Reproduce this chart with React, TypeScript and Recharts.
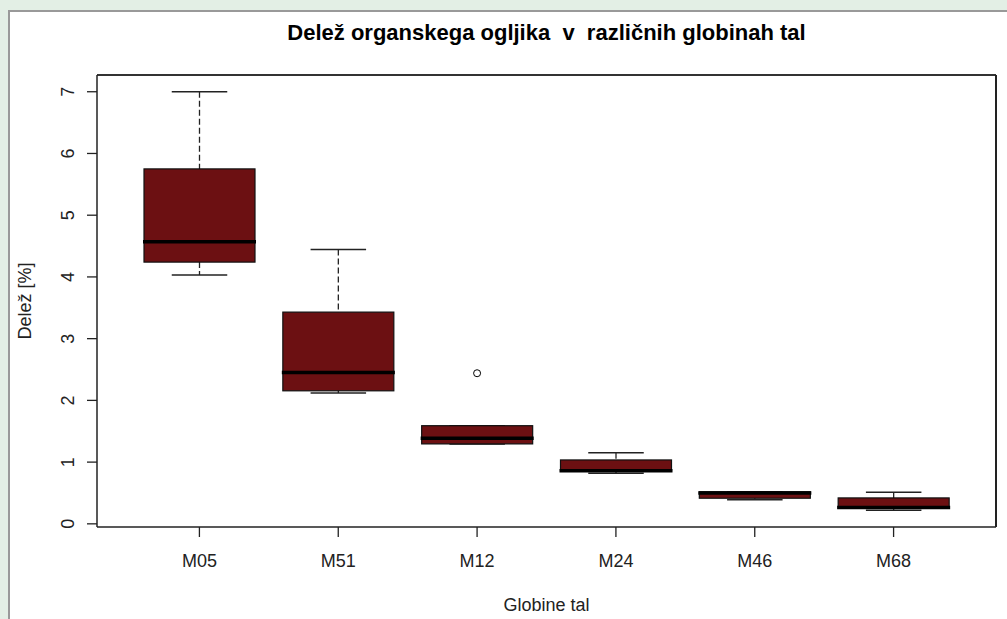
import { ComposedChart, Bar, Line, XAxis, YAxis, Label } from "recharts";

const categories = ["M05", "M51", "M12", "M24", "M46", "M68"];
const whiskerLow = [4.03, 2.12, 1.295, 0.82, 0.39, 0.22];
const quartile1 = [4.24, 2.155, 1.295, 0.86, 0.415, 0.255];
const medians = [4.57, 2.45, 1.385, 0.86, 0.5, 0.265];
const quartile3 = [5.75, 3.43, 1.59, 1.035, 0.52, 0.42];
const whiskerHigh = [7.0, 4.445, 1.59, 1.15, 0.52, 0.51];
const outliers: (number | null)[] = [null, null, 2.44, null, null, null];
const yTicks = [0, 1, 2, 3, 4, 5, 6, 7];

const data = categories.map((name, i) => ({
  name,
  lo: whiskerLow[i],
  q1: quartile1[i],
  med: medians[i],
  q3: quartile3[i],
  hi: whiskerHigh[i],
  outlier: outliers[i],
}));

// R style axis range: data range extended by 4% each side
const allVals = [...whiskerLow, ...whiskerHigh, ...(outliers.filter((v) => v != null) as number[])];
const dMin = Math.min(...allVals);
const dMax = Math.max(...allVals);
const yDomain = [dMin - 0.04 * (dMax - dMin), dMax + 0.04 * (dMax - dMin)];

const FONT = "'Liberation Sans', Arial, sans-serif";
const BOX_FILL = "#6c1012";

const BoxShape = (props: any) => {
  const { x, y, width, height, payload } = props;
  if (!payload) return null;
  const { lo, q1, med, q3, hi } = payload;
  const px = (v: number) => y + ((hi - v) / (hi - lo)) * height;
  const cx = x + width / 2;
  const capHalf = width / 4;
  return (
    <g>
      <line x1={cx} x2={cx} y1={px(hi)} y2={px(q3)} stroke="#222" strokeWidth={1.3} strokeDasharray="6 3" />
      <line x1={cx} x2={cx} y1={px(q1)} y2={px(lo)} stroke="#222" strokeWidth={1.3} strokeDasharray="6 3" />
      <line x1={cx - capHalf} x2={cx + capHalf} y1={px(hi)} y2={px(hi)} stroke="#222" strokeWidth={1.5} />
      <line x1={cx - capHalf} x2={cx + capHalf} y1={px(lo)} y2={px(lo)} stroke="#222" strokeWidth={1.5} />
      <rect x={x} y={px(q3)} width={width} height={Math.max(px(q1) - px(q3), 0.5)} fill={BOX_FILL} stroke="#111" strokeWidth={1.2} />
      <line x1={x - 1} x2={x + width + 1} y1={px(med)} y2={px(med)} stroke="#000" strokeWidth={3.5} />
    </g>
  );
};

const OutlierDot = (props: any) => {
  const { cx, cy, value, index } = props;
  if (value == null || cy == null) return <g key={index} />;
  return <circle key={index} cx={cx} cy={cy} r={3.5} fill="#fff" stroke="#000" strokeWidth={1} />;
};

const YTick = ({ x, y, payload }: any) => (
  <text x={x} y={y} transform={`rotate(-90, ${x}, ${y})`} textAnchor="middle" fontFamily={FONT} fontSize={18} fill="#222">
    {payload.value}
  </text>
);

const App = () => {
  return (
    <div style={{ position: "absolute", left: 0, top: 0, width: 1007, height: 619, background: "#e3efe5", overflow: "hidden" }}>
      <div style={{ position: "absolute", left: 8, top: 10, width: 1010, height: 620, background: "#fff", borderLeft: "2px solid #999", borderTop: "2px solid #999", boxSizing: "border-box" }} />
      <div style={{ position: "absolute", left: 0, top: 0 }}>
        <ComposedChart width={1007} height={619} data={data} margin={{ top: 74, right: 10, left: 0, bottom: 0 }} barSize={111}>
          <XAxis
            xAxisId="main"
            dataKey="name"
            height={92}
            padding={{ left: 33, right: 33 }}
            axisLine={{ stroke: "#222", strokeWidth: 1.5 }}
            tickLine={{ stroke: "#222", strokeWidth: 1.3 }}
            tickSize={10}
            tickMargin={17}
            tick={{ fontFamily: FONT, fontSize: 18, fill: "#222" }}
          >
            <Label
              content={({ viewBox }: any) => (
                <text x={viewBox.x + viewBox.width / 2} y={viewBox.y + 84} textAnchor="middle" fontFamily={FONT} fontSize={18} fill="#222">
                  Globine tal
                </text>
              )}
            />
          </XAxis>
          <XAxis
            xAxisId="top"
            dataKey="name"
            orientation="top"
            height={1}
            padding={{ left: 33, right: 33 }}
            tick={false}
            tickLine={false}
            axisLine={{ stroke: "#333", strokeWidth: 2 }}
          >
            <Label
              content={({ viewBox }: any) => (
                <text x={viewBox.x + viewBox.width / 2} y={viewBox.y + viewBox.height - 35} textAnchor="middle" fontFamily={FONT} fontSize={22} fontWeight="bold" fill="#000" style={{ whiteSpace: "pre" }}>
                  {"Delež organskega ogljika  v  različnih globinah tal"}
                </text>
              )}
            />
          </XAxis>
          <YAxis
            yAxisId="main"
            width={97}
            type="number"
            domain={yDomain}
            ticks={yTicks}
            axisLine={{ stroke: "#222", strokeWidth: 1.5 }}
            tickLine={{ stroke: "#222", strokeWidth: 1.3 }}
            tickSize={10}
            tickMargin={13}
            tick={<YTick />}
            allowDataOverflow
          >
            <Label
              content={({ viewBox }: any) => {
                const cx = 31;
                const cy = viewBox.y + viewBox.height / 2;
                return (
                  <text x={cx} y={cy} transform={`rotate(-90, ${cx}, ${cy})`} textAnchor="middle" fontFamily={FONT} fontSize={18} fill="#222">
                    Delež [%]
                  </text>
                );
              }}
            />
          </YAxis>
          <YAxis
            yAxisId="right"
            orientation="right"
            width={1}
            type="number"
            domain={yDomain}
            tick={false}
            tickLine={false}
            axisLine={{ stroke: "#222", strokeWidth: 2 }}
            allowDataOverflow
          />
          <Bar
            xAxisId="main"
            yAxisId="main"
            dataKey={(d: any) => [d.lo, d.hi]}
            shape={<BoxShape />}
            isAnimationActive={false}
          />
          <Line
            xAxisId="top"
            yAxisId="right"
            dataKey="outlier"
            stroke="none"
            dot={<OutlierDot />}
            activeDot={false}
            isAnimationActive={false}
          />
        </ComposedChart>
      </div>
    </div>
  );
};

export default App;
